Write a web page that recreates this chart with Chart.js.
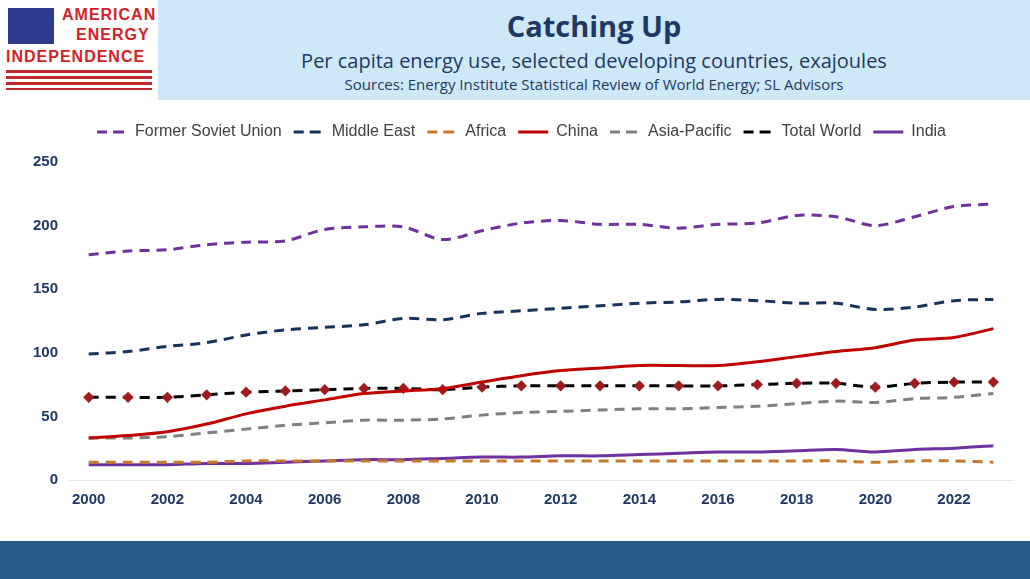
<!DOCTYPE html>
<html><head><meta charset="utf-8">
<script src="https://cdn.jsdelivr.net/npm/chart.js@4"></script>
<style>
body{margin:0;width:1030px;height:579px;background:#fff;font-family:"Open Sans",Arial,sans-serif;position:relative;overflow:hidden}
#head{position:absolute;left:158px;top:0;width:872px;height:100px;background:#cfe8f7;text-align:center}
#head h1{margin:6px 0 0;font-size:29px;color:#1f3864;font-weight:700}
#head .s1{font-size:20px;color:#1f3864;margin-top:2px}
#head .s2{font-size:15px;color:#1f3864}
#logo{position:absolute;left:6px;top:6px;width:148px;height:90px}
#flag{position:absolute;left:2px;top:2px;width:46px;height:36px;background:repeating-linear-gradient(#c0282d 0 4px,#fff 4px 8px)}
#flag div{width:46px;height:36px;background:#2b3a8c}
#logo .t{position:absolute;color:#d62027;font-weight:700;font-family:"Liberation Sans",Arial;font-size:16px;letter-spacing:1px}
#foot{position:absolute;left:0;top:541px;width:1030px;height:38px;background:#2a5a89}
#wrap{position:absolute;left:30px;top:112px;width:1000px;height:400px}
</style></head><body>
<div id="logo"><div id="flag"><div></div></div>
<div class="t" style="left:56px;top:0">AMERICAN</div>
<div class="t" style="left:70px;top:20px">ENERGY</div>
<div class="t" style="left:0;top:42px">INDEPENDENCE</div>
<div style="position:absolute;left:0;top:64px;width:146px;height:20px;background:repeating-linear-gradient(#c0282d 0 3px,#fff 3px 6px)"></div></div>
<div id="head"><h1>Catching Up</h1><div class="s1">Per capita energy use, selected developing countries, exajoules</div><div class="s2">Sources: Energy Institute Statistical Review of World Energy; SL Advisors</div></div>
<div id="wrap"><canvas id="c"></canvas></div>
<div id="foot"></div>
<script>
const years = [];
for (let y = 2000; y <= 2023; y++) years.push(String(y));
const fsu = [177,180,181,185,187,188,197,199,199,189,196,202,204,201,201,198,201,202,208,207,200,207,215,217];
const middleEast = [99,101,105,108,114,118,120,122,127,126,131,133,135,137,139,140,142,141,139,139,134,136,141,142];
const africa = [14,14,14,14,15,15,15,15,15,15,15,15,15,15,15,15,15,15,15,15,14,15,15,14];
const china = [33,35,38,44,52,58,63,68,70,72,77,82,86,88,90,90,90,93,97,101,104,110,112,119];
const asiaPacific = [33,33,34,37,40,43,45,47,47,48,51,53,54,55,56,56,57,58,60,62,61,64,65,68];
const world = [65,65,65,67,69,70,71,72,72,71,73,74,74,74,74,74,74,75,76,76,73,76,77,77];
const india = [12,12,12,13,13,14,15,16,16,17,18,18,19,19,20,21,22,22,23,24,22,24,25,27];

function ds(label, data, color, dash, extra) {
  return Object.assign({label, data, borderColor: color, backgroundColor: color, borderWidth: 3,
    borderDash: dash, pointRadius: 0, tension: 0.3}, extra || {});
}
new Chart(document.getElementById("c"), {
  type: "line",
  data: {labels: years, datasets: [
    ds("Former Soviet Union", fsu, "#7030a0", [10, 7]),
    ds("Middle East", middleEast, "#16325c", [10, 7]),
    ds("Africa", africa, "#c47a2c", [10, 7]),
    ds("China", china, "#c00000", []),
    ds("Asia-Pacific", asiaPacific, "#7f7f7f", [10, 7]),
    ds("Total World", world, "#000000", [10, 7], {pointRadius: 3.5, pointStyle: "rectRot", pointBackgroundColor: "#a01c1c", pointBorderColor: "#a01c1c"}),
    ds("India", india, "#7030a0", [])
  ]},
  options: {
    responsive: true, maintainAspectRatio: false, animation: false,
    layout: {padding: {right: 17}},
    plugins: {legend: {labels: {font: {size: 16}, color: "#404040", boxWidth: 30, boxHeight: 0, padding: 12}}},
    scales: {
      x: {offset: true, grid: {display: false}, ticks: {autoSkip: false, maxRotation: 0, font: {size: 15, weight: "bold"}, color: "#1f3864",
          callback: (v, i) => i % 2 === 0 ? years[i] : ""}},
      y: {min: 0, max: 250, grid: {display: false}, border: {display: false},
          ticks: {stepSize: 50, font: {size: 15, weight: "bold"}, color: "#1f3864"}}
    }
  },
  plugins: [{id: "legendGap", beforeInit(chart) {
    const fit = chart.legend.fit;
    chart.legend.fit = function () { fit.bind(chart.legend)(); this.height += 12; };
  }}]
});
</script></body></html>
